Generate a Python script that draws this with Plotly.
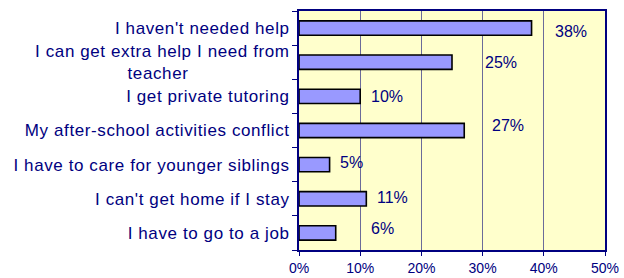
import plotly.graph_objects as go

categories = [
    "I haven't needed help",
    "I can get extra help I need from<br>teacher",
    "I get private tutoring",
    "My after-school activities conflict",
    "I have to care for younger siblings",
    "I can't get home if I stay",
    "I have to go to a job",
]
values = [0.38, 0.25, 0.10, 0.27, 0.05, 0.11, 0.06]
value_labels = ["38%", "25%", "10%", "27%", "5%", "11%", "6%"]
x_ticks = [0, 0.1, 0.2, 0.3, 0.4, 0.5]
x_tick_labels = ["0%", "10%", "20%", "30%", "40%", "50%"]

# pixel offsets of data labels (style)
label_dx = [21, 31, 9, 26, 8, 9, 33]
label_dy = [-3, 0, 0, 5, 2, 1, 4]

# center the second line of the wrapped label with trailing spaces
tick_text = list(categories)
tick_text[1] = "I can get extra help I need from<br>teacher" + "\u00a0" * 19

navy = "#000080"
fam = "Liberation Sans, Arial, sans-serif"
font = dict(family=fam, size=14, color=navy)
cat_font = dict(family=fam, size=17, color=navy)
lab_font = dict(family=fam, size=16, color=navy)

fig = go.Figure()
fig.add_trace(go.Bar(
    x=values, y=categories, orientation="h",
    width=0.42,
    marker=dict(color="#9999FF", line=dict(color="black", width=1.6)),
    hoverinfo="skip",
))

for c, v, t, dx, dy in zip(categories, values, value_labels, label_dx, label_dy):
    fig.add_annotation(x=v, y=c, text=t, showarrow=False, xanchor="left",
                       xshift=dx, yshift=dy, font=lab_font)

fig.update_layout(
    width=624, height=278,
    margin=dict(l=299, r=19, t=11, b=28),
    paper_bgcolor="white", plot_bgcolor="#FFFFCC",
    font=font, showlegend=False,
)
fig.update_xaxes(
    range=[0, 0.5], tickvals=x_ticks, ticktext=x_tick_labels,
    showgrid=True, gridcolor="#6B6B99", gridwidth=1,
    showline=True, linecolor=navy, linewidth=2, mirror=True,
    ticks="outside", ticklen=4, tickcolor=navy, zeroline=False,
    tickfont=font, automargin=False,
)
fig.update_yaxes(
    autorange="reversed", type="category",
    tickvals=categories, ticktext=tick_text,
    showline=True, linecolor=navy, linewidth=2, mirror=True,
    ticks="outside", ticklen=5, tickcolor=navy, tickson="boundaries",
    showgrid=False, tickfont=cat_font, ticklabelstandoff=4, automargin=False,
)

post = (
    "document.body.style.margin='0';document.body.style.overflow='hidden';"
    "document.querySelectorAll('.ytick text').forEach(function(t){t.style.letterSpacing='0.6px';});"
)
fig.write_html("out.html", post_script=post, config={"displayModeBar": False})
